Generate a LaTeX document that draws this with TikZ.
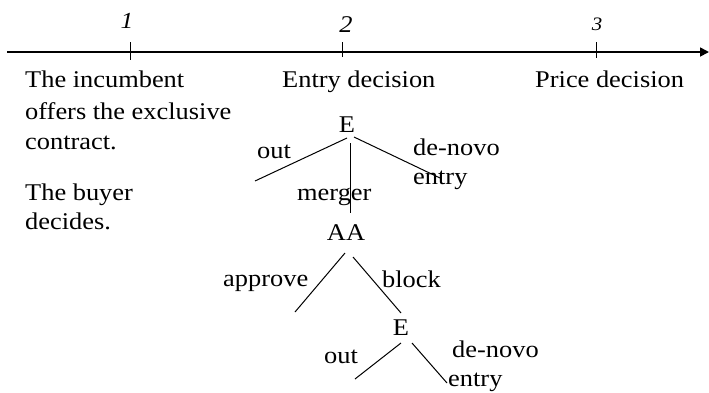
\documentclass[tikz,border=0pt]{standalone}
\usepackage{fontspec}
\setmainfont[FakeStretch=1.1]{Liberation Serif}
\usetikzlibrary{arrows.meta}
\begin{document}
\begin{tikzpicture}[x=1pt,y=-1pt,
  txt/.style={inner sep=0pt,anchor=base west,font=\fontsize{24}{28}\selectfont},
  lbl/.style={inner sep=0pt,anchor=base,font=\fontsize{24}{28}\selectfont},
  num/.style={inner sep=0pt,anchor=base,font=\itshape\fontsize{#1}{#1}\selectfont},
  branch/.style={line width=1pt},
  tick/.style={line width=1pt}]
\useasboundingbox (0,0) rectangle (709,392);
% time axis
\coordinate (a0) at (7,52);
\coordinate (a1) at (709,52);
\draw[line width=1.7pt,-{Triangle[length=9pt,width=9pt]}] (a0) -- (a1);
\coordinate (t1a) at (130,42); \coordinate (t1b) at (130,60);
\coordinate (t2a) at (342,42); \coordinate (t2b) at (342,57);
\coordinate (t3a) at (596,42); \coordinate (t3b) at (596,58);
\draw[tick] (t1a) -- (t1b);
\draw[tick] (t2a) -- (t2b);
\draw[tick] (t3a) -- (t3b);
\node[num=23] (n1) at (127,28) {1};
\node[num=24] (n2) at (346,32) {2};
\node[num=19] (n3) at (597,30) {3};
% stage texts
\node[txt] (s1a) at (25,87) {The incumbent};
\node[txt] (s1b) at (25,119) {offers the exclusive};
\node[txt] (s1c) at (25,149) {contract.};
\node[txt] (s1d) at (25,200) {The buyer};
\node[txt] (s1e) at (25,229) {decides.};
\node[txt] (s2) at (282,87) {Entry decision};
\node[txt] (s3) at (535,87) {Price decision};
% tree
\node[lbl] (E1) at (347,132) {E};
\node[txt] (out1) at (257,158) {out};
\node[txt] (dn1) at (413,155) {de-novo};
\node[txt] (en1) at (413,184) {entry};
\node[txt] (mg) at (297,200) {merger};
\node[lbl] (AA) at (346,240) {AA};
\node[txt] (ap) at (223,286) {approve};
\node[txt] (bl) at (382,287) {block};
\node[lbl] (E2) at (401,335) {E};
\node[txt] (out2) at (324,363) {out};
\node[txt] (dn2) at (452,357) {de-novo};
\node[txt] (en2) at (448,386) {entry};
% branch points
\coordinate (e1l) at (347,138); \coordinate (e1le) at (255,181);
\coordinate (e1m) at (350,143); \coordinate (e1me) at (350,213);
\coordinate (e1r) at (354,137); \coordinate (e1re) at (440,178);
\coordinate (aal) at (345,253); \coordinate (aale) at (295,312);
\coordinate (aar) at (353,257); \coordinate (aare) at (401,313);
\coordinate (e2l) at (401,343); \coordinate (e2le) at (355,379);
\coordinate (e2r) at (412,343); \coordinate (e2re) at (447,383);
\draw[branch] (e1l) -- (e1le);
\draw[branch] (e1m) -- (e1me);
\draw[branch] (e1r) -- (e1re);
\draw[branch] (aal) -- (aale);
\draw[branch] (aar) -- (aare);
\draw[branch] (e2l) -- (e2le);
\draw[branch] (e2r) -- (e2re);
\end{tikzpicture}
\end{document}
